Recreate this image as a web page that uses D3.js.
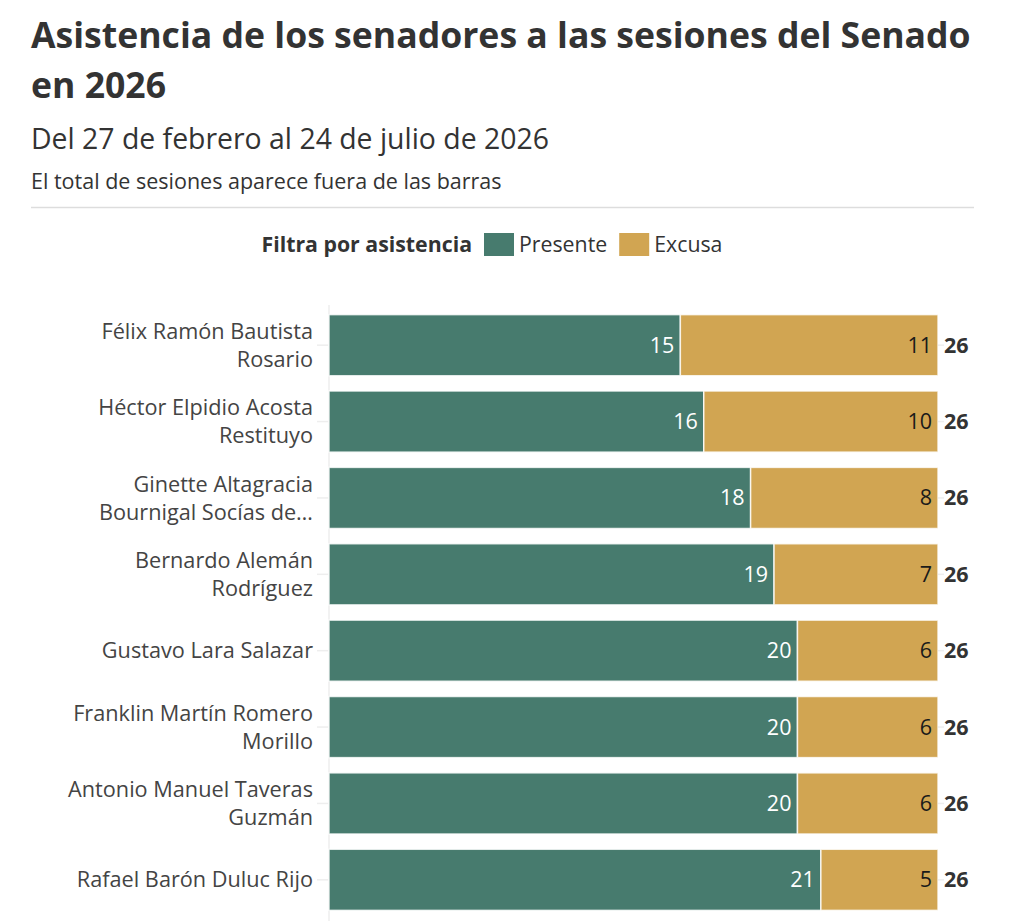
<!DOCTYPE html>
<html>
<head>
<meta charset="utf-8">
<script src="https://cdn.jsdelivr.net/npm/d3@7"></script>
<style>
  body { margin: 0; background: #fff; }
  svg text { font-family: "Open Sans", "Noto Sans", sans-serif; }
</style>
</head>
<body>
<svg id="chart"></svg>
<script>
// datos
const senadores = [
	"Félix Ramón Bautista Rosario",
	"Héctor Elpidio Acosta Restituyo",
	"Ginette Altagracia Bournigal Socías de Jiménez",
	"Bernardo Alemán Rodríguez",
	"Gustavo Lara Salazar",
	"Franklin Martín Romero Morillo",
	"Antonio Manuel Taveras Guzmán",
	"Rafael Barón Duluc Rijo",
];
const presente = [15, 16, 18, 19, 20, 20, 20, 21];
const excusa = [11, 10, 8, 7, 6, 6, 6, 5];
const series = ["Presente", "Excusa"];
const colores = ["#477b6e", "#d1a552"];

const width = 1024, height = 921;
const margin = { top: 307, right: 86, bottom: 3, left: 329 };

const data = senadores.map((s, i) => ({
	name: s,
	Presente: presente[i],
	Excusa: excusa[i],
	total: presente[i] + excusa[i],
}));

const svg = d3.select("#chart").attr("width", width).attr("height", height);

// encabezado
svg.append("text").attr("x", 31).attr("y", 48)
	.attr("font-size", 35.6).attr("font-weight", 700).attr("fill", "#333")
	.text("Asistencia de los senadores a las sesiones del Senado");
svg.append("text").attr("x", 31).attr("y", 98)
	.attr("font-size", 35.6).attr("font-weight", 700).attr("fill", "#333")
	.text("en 2026");
svg.append("text").attr("x", 31).attr("y", 149)
	.attr("font-size", 28.4).attr("fill", "#333")
	.text("Del 27 de febrero al 24 de julio de 2026");
svg.append("text").attr("x", 31).attr("y", 189)
	.attr("font-size", 21.5).attr("fill", "#333")
	.text("El total de sesiones aparece fuera de las barras");
svg.append("line").attr("x1", 31).attr("x2", 974).attr("y1", 207.5).attr("y2", 207.5)
	.attr("stroke", "#ddd").attr("stroke-width", 1.5);

// leyenda
const legend = svg.append("g").attr("transform", "translate(0,252)");
legend.append("text").attr("x", 472).attr("text-anchor", "end")
	.attr("font-size", 21.3).attr("font-weight", 700).attr("fill", "#333")
	.text("Filtra por asistencia");
let lx = 484;
series.forEach((s, i) => {
	legend.append("rect").attr("x", lx).attr("y", -19).attr("width", 30).attr("height", 23)
		.attr("fill", colores[i]);
	const t = legend.append("text").attr("x", lx + 35).attr("font-size", 21.3)
		.attr("fill", "#333").text(s);
	lx += 35 + t.node().getComputedTextLength() + 12;
});

// escalas
const x = d3.scaleLinear()
	.domain([0, d3.max(data, d => d.total)])
	.range([margin.left, width - margin.right]);

const y = d3.scaleBand()
	.domain(senadores)
	.range([margin.top, 918])
	.paddingInner(0.2)
	.paddingOuter(0.1);

const stack = d3.stack().keys(series)(data);

// linea base
svg.append("line").attr("x1", x(0)).attr("x2", x(0))
	.attr("y1", margin.top - 2).attr("y2", height)
	.attr("stroke", "#eee").attr("stroke-width", 1.5);

// eje y
const yAxis = svg.append("g")
	.attr("transform", `translate(${x(0)},0)`)
	.call(d3.axisLeft(y).tickSize(12).tickPadding(4).tickSizeOuter(0));
yAxis.select(".domain").remove();
yAxis.selectAll(".tick line").attr("stroke", "#eee").attr("stroke-width", 1.5);
yAxis.selectAll(".tick text")
	.attr("font-size", 21.7).attr("fill", "#444")
	.call(wrap, 266);

function wrap(texts, maxW) {
	texts.each(function () {
		const text = d3.select(this);
		const words = text.text().split(/\s+/);
		const xPos = text.attr("x");
		text.text(null);
		const lines = [];
		let line = [];
		const probe = text.append("tspan").attr("x", xPos);
		words.forEach(w => {
			line.push(w);
			probe.text(line.join(" "));
			if (probe.node().getComputedTextLength() > maxW && line.length > 1) {
				line.pop();
				lines.push(line.join(" "));
				line = [w];
			}
		});
		lines.push(line.join(" "));
		probe.remove();
		let shown = lines.slice(0, 2);
		if (lines.length > 2) shown[1] = shown[1] + "…";
		const lh = 28;
		const y0 = -(shown.length - 1) * lh / 2;
		shown.forEach((l, i) => {
			text.append("tspan").attr("x", xPos).attr("y", y0 + i * lh)
				.attr("dy", "0.35em").text(l);
		});
	});
}

// barras
const groups = svg.selectAll("g.serie")
	.data(stack)
	.join("g")
	.attr("class", "serie")
	.attr("fill", (d, i) => colores[i]);

groups.selectAll("rect")
	.data(d => d)
	.join("rect")
	.attr("x", d => x(d[0]))
	.attr("y", d => y(d.data.name))
	.attr("width", d => x(d[1]) - x(d[0]))
	.attr("height", y.bandwidth())
	.attr("stroke", "#fff")
	.attr("stroke-opacity", 0.8)
	.attr("stroke-width", 1.5);

groups.selectAll("text")
	.data(d => d)
	.join("text")
	.attr("x", d => x(d[1]) - 6)
	.attr("y", d => y(d.data.name) + y.bandwidth() / 2)
	.attr("dy", "0.35em")
	.attr("text-anchor", "end")
	.attr("font-size", 21.5)
	.attr("fill", (d, i, n) => n[i].parentNode.__data__.key === "Presente" ? "#fff" : "#1a1a1a")
	.text(d => d[1] - d[0]);

// totales
const totals = svg.append("g");
totals.selectAll("line")
	.data(data)
	.join("line")
	.attr("x1", d => x(d.total))
	.attr("x2", d => x(d.total) + 6)
	.attr("y1", d => y(d.name) + y.bandwidth() / 2)
	.attr("y2", d => y(d.name) + y.bandwidth() / 2)
	.attr("stroke", "#eee").attr("stroke-width", 1.5);
totals.selectAll("text")
	.data(data)
	.join("text")
	.attr("x", d => x(d.total) + 6)
	.attr("y", d => y(d.name) + y.bandwidth() / 2)
	.attr("dy", "0.35em")
	.attr("font-size", 21.5)
	.attr("font-weight", 700)
	.attr("fill", "#333")
	.text(d => d.total);
</script>
</body>
</html>
